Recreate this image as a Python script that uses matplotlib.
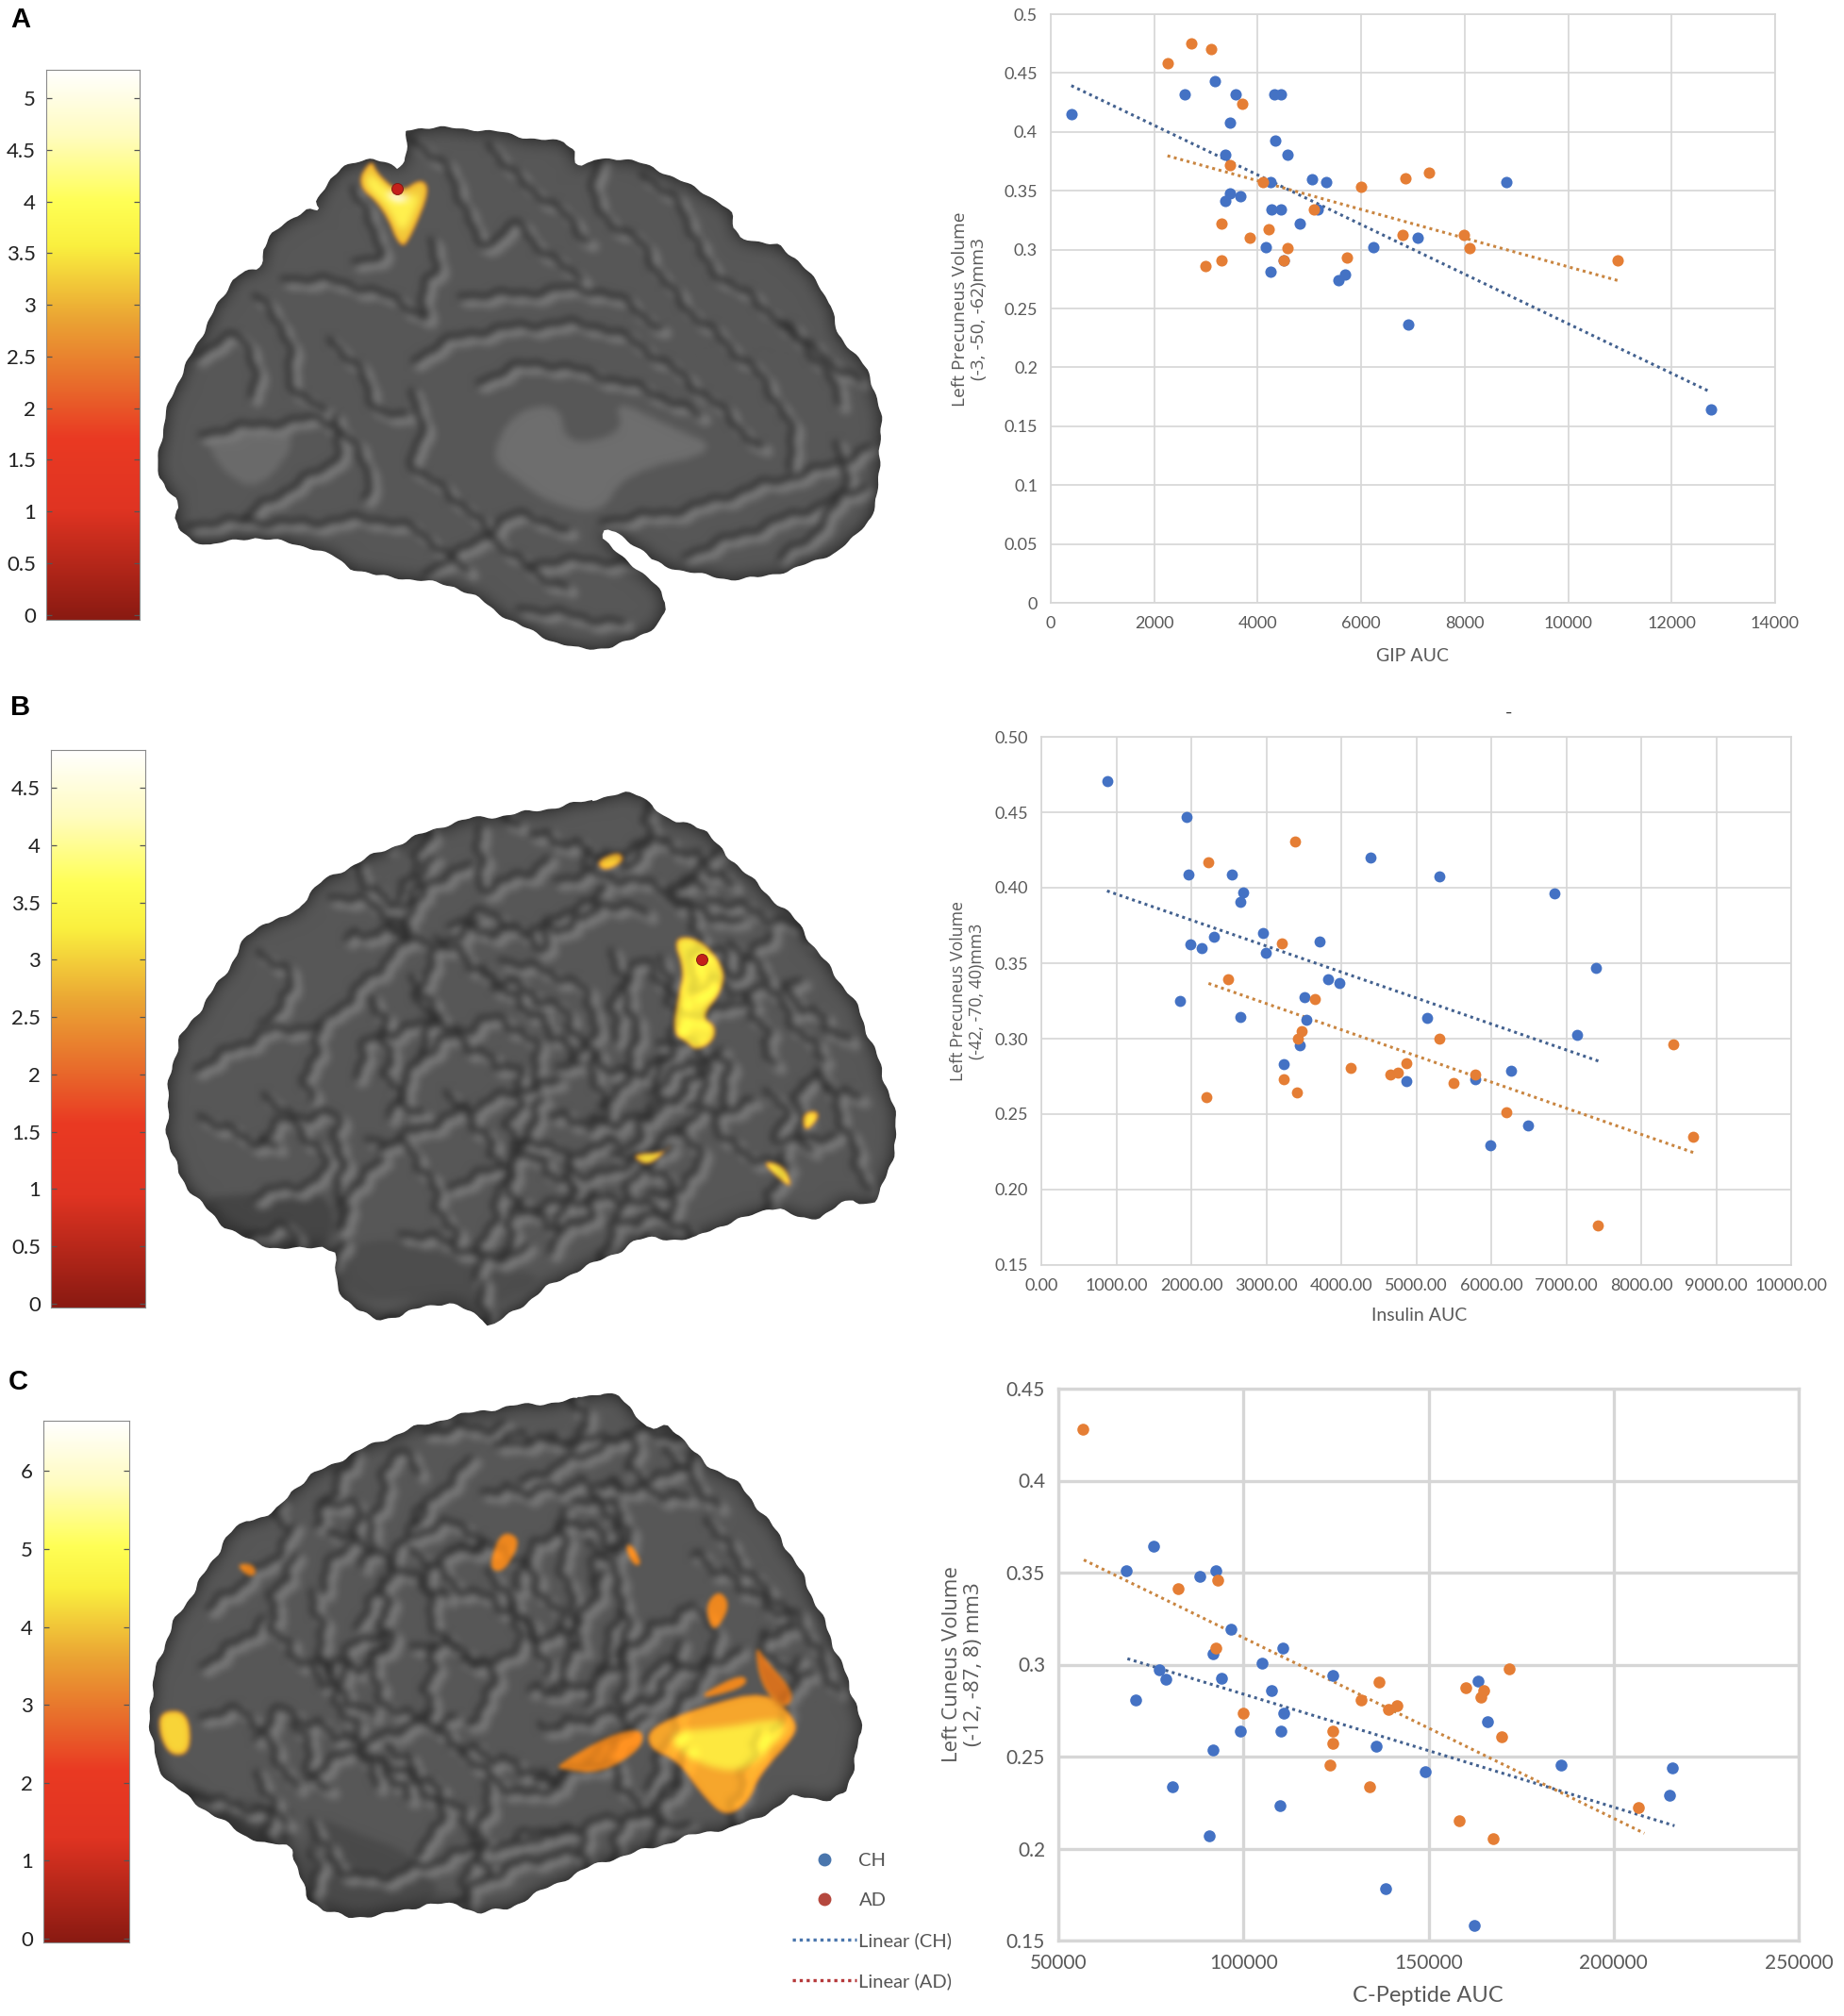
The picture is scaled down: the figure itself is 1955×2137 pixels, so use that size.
import numpy as np
import matplotlib
matplotlib.use("Agg")
import matplotlib.pyplot as plt
from matplotlib.backends.backend_agg import FigureCanvasAgg
from matplotlib.colors import LinearSegmentedColormap
from matplotlib.figure import Figure
from matplotlib.lines import Line2D

# ---------------------------------------------------------------- chart data
a_ch_x = [397, 2596, 3163, 3571, 4320, 4444, 3469, 4342, 3367, 4580, 4240, 5057, 5329, 8798, 3469, 3673, 3367, 4274, 4444, 5159, 4819, 4150, 6236, 7086, 4501, 4240, 5692, 5556, 6916, 12755]
a_ch_y = [0.415, 0.4316, 0.443, 0.4316, 0.4316, 0.4316, 0.4077, 0.393, 0.381, 0.381, 0.357, 0.360, 0.357, 0.357, 0.348, 0.3455, 0.341, 0.334, 0.334, 0.334, 0.322, 0.3024, 0.3024, 0.310, 0.2906, 0.2815, 0.279, 0.274, 0.236, 0.1645]
a_ad_x = [2256, 2721, 3095, 3707, 3469, 4104, 5998, 6848, 7313, 5091, 3299, 4206, 3844, 4580, 6803, 7993, 8095, 5726, 4501, 3299, 2993, 10964]
a_ad_y = [0.458, 0.475, 0.470, 0.424, 0.372, 0.357, 0.353, 0.3605, 0.365, 0.334, 0.322, 0.3175, 0.310, 0.301, 0.3127, 0.3127, 0.301, 0.2936, 0.2906, 0.2906, 0.286, 0.2906]
a_ch_fit_x, a_ch_fit_y = [397, 12755], [0.4393, 0.179]
a_ad_fit_x, a_ad_fit_y = [2256, 11020], [0.3797, 0.273]
a_xticks = [0, 2000, 4000, 6000, 8000, 10000, 12000, 14000]
a_yticks = [0, 0.05, 0.1, 0.15, 0.2, 0.25, 0.3, 0.35, 0.4, 0.45, 0.5]
a_ylabels = ["0", "0.05", "0.1", "0.15", "0.2", "0.25", "0.3", "0.35", "0.4", "0.45", "0.5"]

b_ch_x = [876, 1940, 1964, 2535, 2692, 2660, 4390, 5305, 6839, 2950, 2308, 1987, 2144, 2997, 3709, 7402, 3818, 3975, 1854, 3513, 2660, 3537, 5149, 7144, 3451, 3232, 6268, 4867, 5782, 6487, 5986]
b_ch_y = [0.4709, 0.4469, 0.4089, 0.4089, 0.3971, 0.3905, 0.4199, 0.4078, 0.396, 0.3699, 0.3677, 0.3622, 0.360, 0.3567, 0.3644, 0.347, 0.3393, 0.3371, 0.325, 0.3275, 0.3146, 0.3124, 0.3135, 0.3025, 0.2958, 0.2829, 0.2785, 0.2719, 0.273, 0.2427, 0.2295]
b_ad_x = [3380, 2230, 3208, 2488, 3646, 3474, 3427, 5305, 8427, 4867, 4124, 4656, 4757, 5782, 3232, 5501, 3404, 2207, 6197, 8693, 7426]
b_ad_y = [0.4307, 0.4167, 0.3633, 0.3393, 0.3261, 0.3047, 0.3003, 0.3003, 0.2961, 0.2837, 0.2807, 0.2763, 0.2774, 0.2763, 0.273, 0.2708, 0.2645, 0.2612, 0.2513, 0.235, 0.1764]
b_ch_fit_x, b_ch_fit_y = [876, 7433], [0.3979, 0.2851]
b_ad_fit_x, b_ad_fit_y = [2230, 8693], [0.3366, 0.2246]
b_xticks = [0, 1000, 2000, 3000, 4000, 5000, 6000, 7000, 8000, 9000, 10000]
b_xlabels = ["0.00", "1000.00", "2000.00", "3000.00", "4000.00", "5000.00", "6000.00", "7000.00", "8000.00", "9000.00", "10000.00"]
b_yticks = [0.15, 0.20, 0.25, 0.30, 0.35, 0.40, 0.45, 0.50]
b_ylabels = ["0.15", "0.20", "0.25", "0.30", "0.35", "0.40", "0.45", "0.50"]

c_ch_x = [68314, 75748, 88259, 92430, 96600, 91705, 110743, 104940, 77380, 79012, 94062, 124161, 70852, 107480, 110925, 99139, 110018, 91705, 135766, 163327, 165866, 149184, 185811, 215911, 215005, 80825, 109837, 90798, 138305, 162421]
c_ch_y = [0.3508, 0.3644, 0.3478, 0.3512, 0.3194, 0.3057, 0.3091, 0.3007, 0.2973, 0.2923, 0.2925, 0.2939, 0.2807, 0.2859, 0.2738, 0.2638, 0.2638, 0.2538, 0.2554, 0.2909, 0.2691, 0.242, 0.2456, 0.244, 0.2288, 0.2338, 0.2235, 0.2071, 0.1782, 0.1584]
c_ad_x = [56528, 93155, 82276, 92430, 171668, 136673, 160063, 164959, 164234, 131777, 139211, 141568, 99864, 124161, 124161, 169855, 123255, 134134, 206664, 158250, 167498]
c_ad_y = [0.4282, 0.3458, 0.3412, 0.3091, 0.2975, 0.2907, 0.2875, 0.2859, 0.2823, 0.2807, 0.2757, 0.2775, 0.2738, 0.2638, 0.2572, 0.2606, 0.2456, 0.2338, 0.2222, 0.2153, 0.2053]
c_ch_fit_x, c_ch_fit_y = [68676, 216455], [0.3032, 0.2124]
c_ad_fit_x, c_ad_fit_y = [56890, 208300], [0.3569, 0.2083]
c_xticks = [50000, 100000, 150000, 200000, 250000]
c_yticks = [0.15, 0.2, 0.25, 0.3, 0.35, 0.4, 0.45]
c_ylabels = ["0.15", "0.2", "0.25", "0.3", "0.35", "0.4", "0.45"]

cbar_a_ticks = [0, 0.5, 1, 1.5, 2, 2.5, 3, 3.5, 4, 4.5, 5]
cbar_a_labels = ["0", "0.5", "1", "1.5", "2", "2.5", "3", "3.5", "4", "4.5", "5"]
cbar_b_ticks = [0, 0.5, 1, 1.5, 2, 2.5, 3, 3.5, 4, 4.5]
cbar_b_labels = ["0", "0.5", "1", "1.5", "2", "2.5", "3", "3.5", "4", "4.5"]
cbar_c_ticks = [0, 1, 2, 3, 4, 5, 6]
cbar_c_labels = ["0", "1", "2", "3", "4", "5", "6"]

# ---------------------------------------------------------------- page
W, H = 1955, 2137
BLUE, ORANGE = "#4472c4", "#e57e35"
FIT_BLUE, FIT_ORANGE = "#43618f", "#c98540"
plt.rcParams["font.family"] = ["Lato", "DejaVu Sans"]
fig = plt.figure(figsize=(W / 100, H / 100), dpi=100, facecolor="white")


def box(l, t, r, b):
    return [l / W, 1 - b / H, (r - l) / W, (b - t) / H]


overlay = fig.add_axes([0, 0, 1, 1], zorder=0)
overlay.set_xlim(0, W)
overlay.set_ylim(H, 0)
overlay.axis("off")

# ---------------------------------------------------------------- brain drawing


def smooth(pts, closed=False, it=3):
    p = np.asarray(pts, float)
    for _ in range(it):
        if closed:
            q = np.roll(p, -1, axis=0)
            p = np.column_stack([0.75 * p + 0.25 * q, 0.25 * p + 0.75 * q]).reshape(-1, 2)
        else:
            a, b = p[:-1], p[1:]
            m = np.column_stack([0.75 * a + 0.25 * b, 0.25 * a + 0.75 * b]).reshape(-1, 2)
            p = np.vstack([p[0], m, p[-1]])
    return p


def wiggle(p, amp, lam):
    """Resample a polyline and bend it sideways so that folds look organic."""
    d = np.r_[0, np.cumsum(np.hypot(*np.diff(p, axis=0).T))]
    s = np.arange(0, d[-1], 4.0)
    q = np.column_stack([np.interp(s, d, p[:, 0]), np.interp(s, d, p[:, 1])])
    t = np.gradient(q, axis=0)
    n = np.column_stack([-t[:, 1], t[:, 0]]) / np.maximum(np.hypot(*t.T)[:, None], 1e-6)
    off = amp * (np.sin(s / lam) + 0.6 * np.sin(s / (lam * 0.43) + 1.3))
    return q + n * off[:, None]


def blur(arr, r, passes=2):
    out = arr.copy()
    k = 2 * r + 1
    for _ in range(passes):
        for axis in (0, 1):
            pad = [(0, 0)] * out.ndim
            pad[axis] = (r + 1, r)
            c = np.cumsum(np.pad(out, pad, mode="edge"), axis=axis)
            hi = np.take(c, range(k, c.shape[axis]), axis=axis)
            lo = np.take(c, range(0, c.shape[axis] - k), axis=axis)
            out = (hi - lo) / k
    return out


def offscreen(w, h, bg, draw):
    f = Figure(figsize=(w / 100, h / 100), dpi=100, facecolor=bg)
    cv = FigureCanvasAgg(f)
    a = f.add_axes([0, 0, 1, 1])
    a.set_xlim(0, w)
    a.set_ylim(h, 0)
    a.axis("off")
    draw(a)
    cv.draw()
    return np.asarray(cv.buffer_rgba()).astype(float)[:, :, :3] / 255


def render_brain(x0, y0, w, h, sx, sy, outline, dark, patches, hot, copies=(), amp=3.0, lam=9.0, edge=1.5):
    conv = lambda pts: np.asarray(pts, float) / [sx, sy]
    closed = np.vstack([conv(outline), conv(outline)[:1]])
    sil = wiggle(smooth(closed, it=1), edge, 9.0)
    centre = conv(outline).mean(axis=0)

    curves = []
    for c in dark:
        base = conv(c)
        curves.append(wiggle(smooth(base), amp, lam))
        for k, (dx, dy, deg) in enumerate(copies):
            th = np.radians(deg)
            rot = np.array([[np.cos(th), -np.sin(th)], [np.sin(th), np.cos(th)]])
            moved = (base - centre) @ rot.T + centre + [dx / sx, dy / sy]
            curves.append(wiggle(smooth(moved), amp * 1.3, lam * (0.75 + 0.3 * k)))

    def draw_height(a):
        for poly, g in patches:
            a.fill(*smooth(conv(poly), closed=True, it=2).T, color=str(g), lw=0)
        for p in curves:
            a.plot(p[:, 0] + 7, p[:, 1] + 6, color="0.47", lw=8, solid_capstyle="round")
        for p in curves:
            a.plot(p[:, 0], p[:, 1], color="0.19", lw=4.2, solid_capstyle="round")

    height = blur(offscreen(w, h, "0.34", draw_height)[:, :, 0], 4)

    mask = offscreen(w, h, "black", lambda a: a.fill(*sil.T, color="white", lw=0))[:, :, 0]
    rim = blur(mask, 10)
    shade = np.clip(0.66 + 0.34 * (rim - 0.5) / 0.5, 0.66, 1.0) * mask + (1 - mask)
    gray = height * shade

    rgb = np.dstack([gray, gray, gray])
    if hot:
        def draw_hot(a):
            for poly, col in hot:
                a.fill(*smooth(conv(poly), closed=True, it=2).T, color=col, lw=0)

        def draw_m(a):
            for poly, _ in hot:
                a.fill(*smooth(conv(poly), closed=True, it=2).T, color="white", lw=0)

        hc = blur(offscreen(w, h, "#e8821e", draw_hot), 4)
        hm = blur(offscreen(w, h, "black", draw_m)[:, :, 0], 2)[:, :, None]
        tone = np.clip(1.0 + 0.8 * (height - 0.34), 0.82, 1.08)[:, :, None]
        rgb = rgb * (1 - hm) + np.clip(hc * tone, 0, 1) * hm

    rgba = np.dstack([rgb, mask])
    overlay.imshow(rgba, extent=(x0, x0 + w, y0 + h, y0), aspect="auto", interpolation="bilinear", zorder=1)
    overlay.set_xlim(0, W)
    overlay.set_ylim(H, 0)


# --- A
out_a = [(690,300),(720,293),(830,300),(900,320),(975,330),(978,395),(1020,360),(1090,375),(1160,420),(1240,480),(1245,540),(1295,565),(1330,565),(1410,690),(1415,760),(1440,800),(1480,870),(1498,990),(1490,1060),(1490,1170),(1440,1260),(1360,1310),(1260,1342),(1180,1325),(1110,1300),(1090,1270),(1030,1215),(1020,1250),(1090,1320),(1130,1380),(1130,1420),(1090,1470),(1020,1500),(960,1495),(860,1430),(790,1360),(720,1340),(610,1325),(550,1270),(440,1240),(410,1245),(340,1262),(290,1210),(310,1160),(270,1120),(268,1050),(285,930),(320,830),(390,650),(410,630),(445,620),(445,560),(515,480),(545,490),(535,460),(570,395),(620,365),(640,365),(685,400)]
dark_a = [
    [(700,320),(770,400),(800,540),(830,570),(880,500),(920,590),(990,640)],
    [(1020,370),(1000,450),(1020,500),(1090,560),(1120,640),(1170,720),(1230,790),(1300,880),(1350,1010),(1340,1090)],
    [(1090,400),(1140,450),(1180,540),(1190,610),(1290,700),(1380,810),(1430,930)],
    [(480,640),(590,650),(690,700),(730,750),(710,640),(750,620),(730,550)],
    [(600,600),(660,590),(620,500),(600,430)],
    [(700,830),(760,780),(850,755),(1000,740),(1080,790),(1150,860),(1230,950),(1290,1040)],
    [(810,880),(900,830),(1000,860),(1100,900),(1190,960)],
    [(700,900),(720,980),(690,1080),(760,1130),(830,1230),(880,1300),(960,1360)],
    [(550,950),(490,900),(490,760),(430,680)],
    [(340,1000),(430,980),(510,970),(560,960),(640,1100),(610,1150)],
    [(320,1210),(420,1200),(500,1210),(640,1190),(720,1230),(790,1320)],
    [(570,960),(580,1060),(480,1130),(410,1200)],
    [(1020,1200),(1160,1180),(1280,1120),(1400,1080),(1480,1030)],
    [(1160,1280),(1280,1220),(1400,1160),(1470,1120)],
    [(560,780),(620,870),(640,960),(690,960)],
    [(1320,740),(1400,830),(1460,880)],
    [(900,1300),(980,1290),(1080,1300)],
    [(720,1320),(810,1250),(880,1170),(960,1230)],
    [(780,680),(880,680),(980,660),(1060,690),(1120,760)],
    [(330,820),(400,760),(440,840),(420,920)],
    [(830,330),(880,420),(940,470),(1000,560)],
    [(1420,1020),(1440,1100),(1400,1210),(1320,1290)],
    [(880,1400),(970,1420),(1060,1440)],
]
patches_a = [([(870,950),(950,930),(960,1030),(1060,1000),(1040,920),(1130,980),(1230,1040),(1060,1090),(1020,1190),(930,1160),(880,1110),(830,1060)], 0.43),
             ([(350,1000),(520,985),(440,1140),(370,1080)], 0.42)]
hot_a = [([(630,365),(603,425),(650,480),(680,580),(700,540),(730,440),(715,410),(678,445),(640,400)], "#f3c93a"),
         ([(625,395),(620,430),(660,480),(682,545),(705,480),(712,445),(675,458)], "#fff04e"),
         ([(650,440),(672,470),(700,455),(680,450)], "#ffffff")]
render_brain(0, 0, 980, 720, 1568 / 980, 1568 / 720, out_a, dark_a, patches_a, hot_a, amp=2.5, lam=10.0, edge=1.2)

# --- B
out_b = [(1005,265),(1050,245),(1100,260),(1135,320),(1190,320),(1225,390),(1255,420),(1300,490),(1340,530),(1400,650),(1430,705),(1450,740),(1490,880),(1510,970),(1525,1050),(1510,1130),(1490,1215),(1460,1225),(1445,1210),(1370,1270),(1310,1225),(1280,1250),(1200,1285),(1175,1312),(1090,1300),(1040,1345),(950,1400),(870,1480),(830,1520),(820,1490),(740,1450),(660,1505),(590,1470),(565,1385),(570,1320),(480,1335),(400,1300),(330,1210),(295,1130),(280,1030),(295,850),(340,760),(390,660),(430,560),(500,540),(530,470),(610,410),(690,360),(780,310),(870,300)]
dark_b = [
    [(560,490),(620,500),(680,560),(690,600),(650,650),(600,720),(560,780)],
    [(760,560),(830,520),(900,600),(930,620),(920,560),(980,510),(1060,510),(1100,540)],
    [(850,640),(950,680),(1000,720),(1010,800),(990,870),(940,900)],
    [(1040,620),(1060,720),(1080,800),(1070,900),(1040,980),(1000,1050)],
    [(640,1090),(720,1040),(790,1000),(860,960),(950,930)],
    [(650,1120),(590,1180),(570,1290)],
    [(760,1180),(860,1130),(910,1060),(960,1110),(990,1170),(1060,1130),(1140,1080)],
    [(1100,960),(1170,880),(1240,880),(1230,960),(1210,1040),(1250,1100),(1340,1140)],
    [(1150,1040),(1190,1100),(1170,1180),(1100,1210)],
    [(330,900),(400,850),(470,800),(540,810)],
    [(450,960),(500,1030),(560,1130),(540,1170),(430,1200)],
    [(440,620),(510,700),(440,800)],
    [(1240,600),(1300,680),(1340,790),(1400,880)],
    [(1220,390),(1130,480),(1190,530),(1260,560)],
    [(1000,380),(990,440),(1060,380),(1130,350)],
    [(880,1240),(980,1210),(1090,1210),(1180,1310)],
    [(680,1290),(760,1310),(820,1360),(900,1330)],
    [(1390,900),(1420,1000),(1450,1100),(1470,1200)],
    [(800,420),(720,460),(680,520)],
    [(1300,950),(1340,1000),(1300,1080),(1420,1060)],
    [(700,680),(740,780),(700,900),(660,1020)],
    [(340,1010),(400,1060),(470,1090)],
]
patches_b = [([(330,1210),(400,1300),(480,1335),(570,1320),(560,1190),(430,1200)], 0.27),
             ([(570,1330),(600,1460),(740,1440),(820,1480),(940,1390),(800,1370),(680,1300)], 0.30)]
hot_b = [([(1140,590),(1185,590),(1230,660),(1225,720),(1190,780),(1215,800),(1210,840),(1180,860),(1165,840),(1140,820),(1150,730),(1160,670)], "#fbeb42"),
         ([(1010,410),(1050,385),(1060,410),(1025,435)], "#f0c834"),
         ([(1070,1105),(1130,1100),(1140,1080),(1110,1125),(1090,1130)], "#fbeb42"),
         ([(1290,1120),(1330,1130),(1345,1185),(1325,1170)], "#fbeb42"),
         ([(1360,1010),(1385,1000),(1390,1020),(1365,1055)], "#f6dc3c")]
render_brain(0, 730, 980, 700, 1568 / 980, 1568 / 700, out_b, dark_b, patches_b, hot_b, copies=[(40, -30, 62), (-30, 40, -48)], amp=3.2, lam=8.0)

# --- C
out_c = [(980,90),(1040,80),(1080,130),(1100,175),(1140,155),(1190,250),(1240,280),(1290,360),(1340,460),(1380,570),(1420,700),(1465,870),(1450,960),(1430,1060),(1350,1040),(1330,1060),(1260,1115),(1190,1130),(1100,1170),(1020,1200),(960,1240),(830,1335),(760,1290),(610,1340),(530,1310),(500,1210),(500,1160),(440,1160),(330,1060),(270,990),(255,900),(255,790),(285,650),(340,530),(400,390),(470,370),(500,300),(620,210),(730,150),(850,115),(980,100)]
dark_c = [
    [(540,340),(620,350),(600,430),(560,480),(540,560)],
    [(700,420),(780,380),(830,460),(780,450),(720,490),(730,640),(780,700)],
    [(830,500),(890,640),(860,730),(780,720)],
    [(960,360),(950,500),(980,620),(970,720),(930,800)],
    [(1000,430),(1040,500),(1060,560),(1030,690),(1010,780),(990,830)],
    [(600,640),(650,540),(680,430),(720,350)],
    [(500,400),(470,470),(420,520),(350,600)],
    [(1090,770),(1110,720),(1180,740),(1220,700),(1190,590)],
    [(780,930),(840,1010),(900,1050),(960,1000),(1000,950),(1050,900),(1100,850)],
    [(520,1000),(570,950),(650,900),(730,850)],
    [(530,1100),(560,1200),(620,1250),(740,1200),(830,1150)],
    [(880,1150),(960,1130),(1060,1080),(1170,1120)],
    [(640,950),(720,1020),(760,1100),(700,1180)],
    [(340,730),(400,680),(450,620)],
    [(340,850),(420,830),(470,950),(500,1030)],
    [(320,1040),(420,1070),(490,1100)],
    [(1060,260),(1090,170),(1020,210),(950,250),(880,300)],
    [(800,240),(740,320),(700,400)],
    [(1200,380),(1250,480),(1300,560),(1360,620),(1420,800)],
    [(1130,210),(1180,300),(1220,360)],
    [(1300,650),(1290,720),(1380,760)],
    [(760,1310),(820,1240),(900,1190),(980,1180)],
]
patches_c = [([(290,1000),(330,1060),(440,1160),(500,1160),(500,1060),(400,1060)], 0.26),
             ([(520,1080),(520,1300),(610,1340),(760,1290),(700,1180),(600,1130)], 0.29)]
hot_c = [([(1100,880),(1190,830),(1300,790),(1350,860),(1350,900),(1290,990),(1270,1060),(1230,1095),(1190,1040),(1150,960),(1100,930)], "#f6a62c"),
         ([(1130,890),(1230,880),(1310,860),(1340,870),(1290,960),(1240,990),(1160,950)], "#fde83f"),
         ([(945,970),(1030,900),(1090,880),(1090,930),(1020,990),(950,980)], "#ee881f"),
         ([(830,490),(850,410),(885,430),(860,500),(840,510)], "#ee881f"),
         ([(1070,440),(1090,490),(1075,495),(1060,450)], "#ee881f"),
         ([(400,490),(430,490),(435,515),(420,520)], "#ee881f"),
         ([(270,840),(320,840),(325,940),(290,950),(270,900)], "#f8d438"),
         ([(1195,590),(1220,550),(1240,590),(1210,660)], "#ee881f"),
         ([(1190,800),(1260,750),(1270,780),(1200,810)], "#ee881f"),
         ([(1280,680),(1300,720),(1350,800),(1330,840),(1290,780)], "#d4701f")]
render_brain(0, 1440, 980, 697, 1568 / 980, 1568 / 697, out_c, dark_c, patches_c, hot_c, copies=[(38, -28, 58), (-30, 36, -52)], amp=3.2, lam=8.0)

# seed markers on the surface
overlay.scatter([673 * 980 / 1568, 1190 * 980 / 1568], [435 * 720 / 1568, 730 + 642 * 700 / 1568], s=75, color="#c4201a", edgecolor="#7c1410", lw=0.6, zorder=3)

# ---------------------------------------------------------------- colour bars
hot_cmap = LinearSegmentedColormap.from_list("brainhot", [
    (0.00, "#8a1a12"), (0.10, "#b5271a"), (0.20, "#e03422"), (0.33, "#ea3a23"),
    (0.42, "#e8682b"), (0.55, "#eba634"), (0.68, "#faf03f"), (0.76, "#ffff55"),
    (0.88, "#fffcc0"), (1.00, "#ffffff")])


def colorbar(rect, lo, hi, ticks, labels):
    ax = fig.add_axes(box(*rect), zorder=2)
    ax.imshow(np.linspace(0, 1, 256)[:, None], origin="lower", aspect="auto", cmap=hot_cmap, extent=(0, 1, lo, hi))
    ax.set_xticks([])
    ax.set_ylim(lo, hi)
    ax.set_yticks(ticks, labels)
    ax.tick_params(axis="y", left=True, right=True, direction="in", length=4, width=0.9, color="#555555", pad=8, labelsize=16, labelcolor="#222222")
    for s in ax.spines.values():
        s.set_color("#8a8a8a")
        s.set_linewidth(0.8)


colorbar((49, 74, 148, 657), -0.05, 5.277, cbar_a_ticks, cbar_a_labels)
colorbar((54, 795, 154, 1386), -0.033, 4.83, cbar_b_ticks, cbar_b_labels)
colorbar((46, 1506, 137, 2059), -0.048, 6.645, cbar_c_ticks, cbar_c_labels)

# ---------------------------------------------------------------- scatter charts


def scatter_panel(rect, xlim, ylim, xticks, xlabels, yticks, ylabels, ch, ad, fit_ch, fit_ad,
                  xlabel, ylabel, xlab_px, ylab_px, tick_size, label_size, ylab_size, grid_lw, ms, tickpad):
    ax = fig.add_axes(box(*rect), zorder=2)
    ax.set_xlim(*xlim)
    ax.set_ylim(*ylim)
    ax.set_xticks(xticks, xlabels)
    ax.set_yticks(yticks, ylabels)
    ax.grid(True, color="#d6d6d6", lw=grid_lw)
    ax.set_axisbelow(True)
    for s in ax.spines.values():
        s.set_color("#d6d6d6")
        s.set_linewidth(grid_lw)
    ax.tick_params(length=0, labelsize=tick_size, labelcolor="#595959", pad=tickpad)
    ax.plot(*fit_ch, ls=(0, (1, 1.3)), color=FIT_BLUE, lw=2.2, zorder=2)
    ax.plot(*fit_ad, ls=(0, (1, 1.3)), color=FIT_ORANGE, lw=2.2, zorder=2)
    ax.scatter(*ch, s=ms, color=BLUE, lw=0, zorder=3)
    ax.scatter(*ad, s=ms, color=ORANGE, lw=0, zorder=4)
    fig.text(xlab_px[0] / W, 1 - xlab_px[1] / H, xlabel, ha="center", va="center", fontsize=label_size, color="#595959")
    fig.text(ylab_px[0] / W, 1 - ylab_px[1] / H, ylabel, ha="center", va="center", rotation=90, ma="center",
             fontsize=ylab_size, color="#595959", family=["Open Sans", "DejaVu Sans"], linespacing=1.12)
    return ax


scatter_panel((1114, 15, 1882, 639), (0, 14000), (0, 0.5), a_xticks, [str(v) for v in a_xticks], a_yticks, a_ylabels,
              (a_ch_x, a_ch_y), (a_ad_x, a_ad_y), (a_ch_fit_x, a_ch_fit_y), (a_ad_fit_x, a_ad_fit_y),
              "GIP AUC", "Left Precuneus Volume\n(-3, -50, -62)mm3", (1497, 696), (1028, 328), 13, 14, 13.8, 1.2, 76, 10)
scatter_panel((1104, 781, 1899, 1341), (0, 10000), (0.15, 0.50), b_xticks, b_xlabels, b_yticks, b_ylabels,
              (b_ch_x, b_ch_y), (b_ad_x, b_ad_y), (b_ch_fit_x, b_ch_fit_y), (b_ad_fit_x, b_ad_fit_y),
              "Insulin AUC", "Left Precuneus Volume\n(-42, -70, 40)mm3", (1505, 1394), (1026, 1051), 13, 14, 12.8, 1.2, 72, 10)
scatter_panel((1122, 1472, 1907, 2057), (50000, 250000), (0.15, 0.45), c_xticks, [str(v) for v in c_xticks], c_yticks, c_ylabels,
              (c_ch_x, c_ch_y), (c_ad_x, c_ad_y), (c_ch_fit_x, c_ch_fit_y), (c_ad_fit_x, c_ad_fit_y),
              "C-Peptide AUC", "Left Cuneus Volume\n(-12, -87, 8) mm3", (1514, 2115), (1021, 1764), 15, 17, 16, 2.4, 82, 10)

handles = [Line2D([], [], ls="", marker="o", ms=9, color="#4a76ad"),
           Line2D([], [], ls="", marker="o", ms=9, color="#b5483e"),
           Line2D([], [], ls=(0, (1, 1.2)), lw=2.4, color="#4a76ad"),
           Line2D([], [], ls=(0, (1, 1.2)), lw=2.4, color="#b5383a")]
leg = fig.legend(handles, ["CH", "AD", "Linear (CH)", "Linear (AD)"], loc="upper left",
                 bbox_to_anchor=(840 / W, 1 - 1964 / H), frameon=False, fontsize=14.5, labelcolor="#555555",
                 handlelength=3.4, handletextpad=0.1, labelspacing=1.24, borderpad=0, borderaxespad=0)

for letter, x, y in [("A", 11, 21), ("B", 11, 750), ("C", 9, 1465)]:
    fig.text(x / W, 1 - y / H, letter, ha="left", va="center", fontsize=21, fontweight="bold",
             family=["Liberation Sans", "DejaVu Sans"], color="black")
fig.text(1600 / W, 1 - 756 / H, "\u2013", ha="center", va="center", fontsize=9, fontweight="bold", color="#333333")

fig.savefig("out.png", dpi=100, facecolor="white")
